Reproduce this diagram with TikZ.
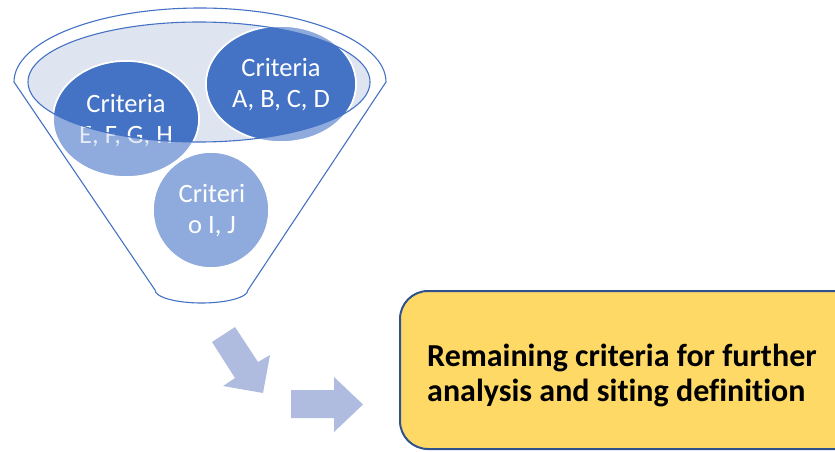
\documentclass[tikz,border=0pt]{standalone}
\usepackage{fontspec}
\setmainfont{Carlito}[Ligatures={NoCommon}]
\definecolor{funnelblue}{HTML}{4472C4}
\definecolor{rimfill}{HTML}{DFE4F1}
\definecolor{critdark}{HTML}{4472C4}
\definecolor{critlight}{HTML}{8FAADC}
\definecolor{arrowfill}{HTML}{AFBCDF}
\definecolor{goalfill}{HTML}{FFD966}
\definecolor{goalline}{HTML}{2F528F}
\definecolor{fadedwhite}{HTML}{E4EAF6}
\tikzset{
  funnelline/.style={draw=funnelblue, line width=1.1pt},
  critring/.style={draw=white, line width=1.6pt},
  crittext/.style={align=center, inner sep=0pt, font=\fontsize{26.5}{31}\selectfont},
  blockarrow/.style={fill=arrowfill, draw=none},
  goalbox/.style={draw=goalline, line width=2pt, fill=goalfill, rounded corners=28pt,
    minimum width=470pt, minimum height=158pt, anchor=north west},
  goaltext/.style={align=left, inner sep=0pt, font=\bfseries\fontsize{32}{35}\selectfont}
}
\begin{document}
\begin{tikzpicture}[x=1pt,y=-1pt]
\useasboundingbox (0,0) rectangle (835,452);

% funnel body: upper rim arc, two sloping sides, rounded spout
\draw[funnelline] (14,82) arc[start angle=180, end angle=360, x radius=186, y radius=74]
  -- (248,290) arc[start angle=0, end angle=180, x radius=46.5, y radius=13] -- cycle;

% inner rim surface
\fill[rimfill] (199,82) ellipse[x radius=171, y radius=60];

% criteria groups, pale where they hang outside the rim
\path[critring, fill=critlight] (281,84) ellipse[x radius=75, y radius=58];
\path[critring, fill=critlight] (126,119) ellipse[x radius=73, y radius=58];
\path[critring, fill=critlight] (211,210) ellipse[x radius=58, y radius=58];

\node[crittext, text=fadedwhite] (efghlow) at (126,121) {Criteria\\E, F, G, H};

% the same groups, deep blue inside the rim
\begin{scope}
  \clip (199,82) ellipse[x radius=171, y radius=60];
  \path[critring, fill=critdark] (281,84) ellipse[x radius=75, y radius=58];
  \path[critring, fill=critdark] (126,119) ellipse[x radius=73, y radius=58];
  \node[crittext, text=white] (efgh) at (126,121) {Criteria\\E, F, G, H};
\end{scope}

% rim outline drawn over the groups
\draw[funnelline] (199,82) ellipse[x radius=171, y radius=60];

\node[crittext, text=white] (abcd) at (281,85) {Criteria\\A, B, C, D};
\node[crittext, text=white] (ij) at (212,211) {Criteri\\o I, J};

% flow arrows toward the result
\fill[blockarrow] (212,342) -- (235,327) -- (258,362) -- (270,355) -- (263,393)
  -- (223,386) -- (235,378) -- cycle;
\fill[blockarrow] (291,390) -- (334,390) -- (334,377) -- (363,404.5) -- (334,432)
  -- (334,418) -- (291,418) -- cycle;

% result box
\node[goalbox] (goal) at (399,290) {};
\node[goaltext, anchor=west] (goaltxt) at (427,375)
  {Remaining criteria for further\\analysis and siting definition};
\end{tikzpicture}
\end{document}
